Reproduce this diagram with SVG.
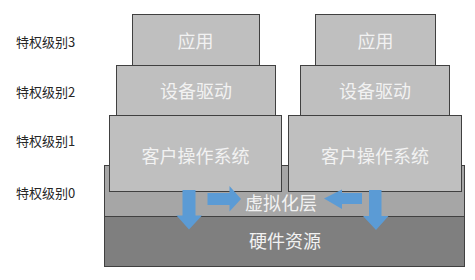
<svg xmlns="http://www.w3.org/2000/svg" width="475" height="280" viewBox="0 0 475 280">
<style>
.lvl{font-family:"Noto Sans CJK SC","Noto Sans",sans-serif;font-size:13px;fill:#262626}
.box{fill:#bfbfbf;stroke:#404040;stroke-width:1}
.t{font-family:"Noto Sans CJK SC","Noto Sans",sans-serif;font-size:18px;fill:#f2f2f2;text-anchor:middle;dominant-baseline:central}
.arr{fill:#5b9bd5}
</style>
<rect width="475" height="280" fill="#ffffff"/>
<g id="labels">
<text class="lvl" x="16" y="41" dominant-baseline="central">特权级别3</text>
<text class="lvl" x="16" y="91" dominant-baseline="central">特权级别2</text>
<text class="lvl" x="16" y="140" dominant-baseline="central">特权级别1</text>
<text class="lvl" x="16" y="192" dominant-baseline="central">特权级别0</text>
</g>
<g id="virt">
<rect x="104.5" y="165.5" width="360" height="51" fill="#a6a6a6" stroke="#404040"/>
<text class="t" x="281" y="202">虚拟化层</text>
</g>
<g id="hw">
<rect x="104.5" y="216.5" width="360" height="50" fill="#7f7f7f" stroke="#404040"/>
<text class="t" x="285" y="240">硬件资源</text>
</g>
<g id="os1">
<rect class="box" x="109.5" y="115.5" width="172" height="76"/>
<text class="t" x="195.5" y="155">客户操作系统</text>
</g>
<g id="os2">
<rect class="box" x="288.5" y="115.5" width="173" height="76"/>
<text class="t" x="375" y="155">客户操作系统</text>
</g>
<g id="drv1">
<rect class="box" x="116.5" y="65.5" width="159" height="50"/>
<text class="t" x="196" y="90">设备驱动</text>
</g>
<g id="drv2">
<rect class="box" x="300.5" y="65.5" width="149" height="50"/>
<text class="t" x="375" y="90">设备驱动</text>
</g>
<g id="app1">
<rect class="box" x="132.5" y="14.5" width="127" height="51"/>
<text class="t" x="195.5" y="40">应用</text>
</g>
<g id="app2">
<rect class="box" x="315.5" y="14.5" width="120" height="51"/>
<text class="t" x="375.5" y="40">应用</text>
</g>
<g id="connectors">
<polygon class="arr" points="182.5,190 195.5,190 195.5,215.5 202,215.5 189,229.5 176.5,215.5 182.5,215.5"/>
<polygon class="arr" points="207.5,193 229.5,193 229.5,186 241,199 229.5,211.5 229.5,205 207.5,205"/>
<polygon class="arr" points="362,193 342,193 342,189.5 324,198.5 342,209 342,204 362,204"/>
<polygon class="arr" points="369,190 381.5,190 381.5,216 388.5,216 376,230 363,216 369,216"/>
</g>
</svg>
